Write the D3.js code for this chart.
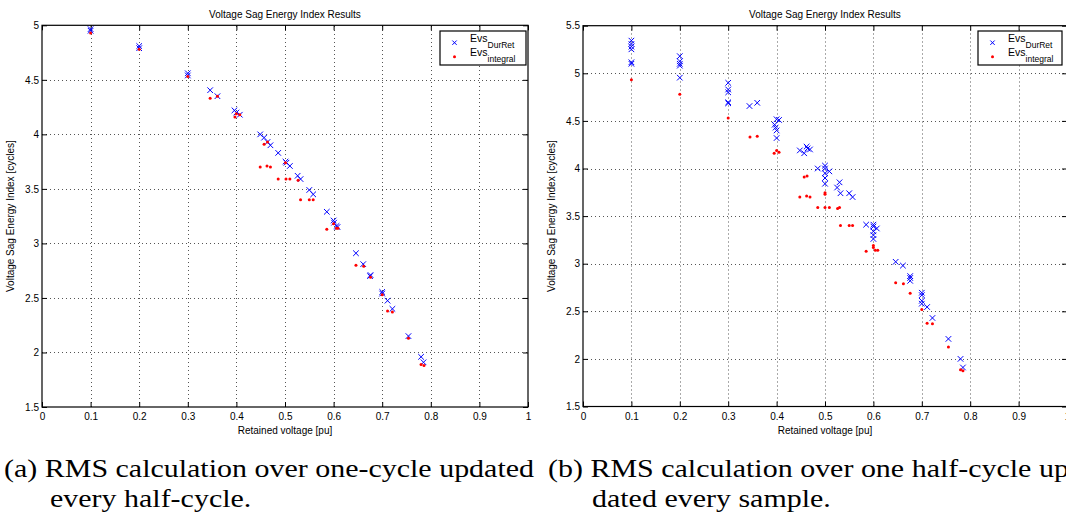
<!DOCTYPE html>
<html>
<head>
<meta charset="utf-8">
<script src="https://cdn.jsdelivr.net/npm/d3@7"></script>
<style>
  body { margin: 0; background: #fff; }
</style>
</head>
<body>
<script>
// values: [retained voltage pu, index cycles]
const leftDurRet = [
  [0.1, 4.965], [0.1, 4.95], [0.2, 4.81], [0.2, 4.79], [0.3, 4.56], [0.3, 4.54],
  [0.346, 4.405], [0.361, 4.35], [0.396, 4.22], [0.40, 4.20], [0.407, 4.18],
  [0.449, 4.00], [0.457, 3.97], [0.464, 3.93], [0.470, 3.90], [0.486, 3.83],
  [0.501, 3.75], [0.503, 3.74], [0.510, 3.71], [0.526, 3.62], [0.532, 3.59],
  [0.550, 3.49], [0.558, 3.45], [0.586, 3.29], [0.600, 3.21], [0.601, 3.19],
  [0.606, 3.16], [0.608, 3.15], [0.646, 2.91], [0.661, 2.81], [0.676, 2.71],
  [0.675, 2.70], [0.700, 2.555], [0.700, 2.54], [0.711, 2.475], [0.721, 2.40],
  [0.754, 2.15], [0.780, 1.96], [0.785, 1.91]
];
const leftIntegral = [
  [0.1, 4.93], [0.2, 4.78], [0.3, 4.53], [0.346, 4.33], [0.361, 4.35],
  [0.397, 4.16], [0.40, 4.19], [0.407, 4.18], [0.457, 3.91], [0.464, 3.93],
  [0.449, 3.70], [0.463, 3.71], [0.470, 3.70], [0.486, 3.59], [0.501, 3.74],
  [0.502, 3.59], [0.510, 3.59], [0.527, 3.58], [0.532, 3.40], [0.550, 3.40],
  [0.558, 3.40], [0.586, 3.13], [0.600, 3.18], [0.606, 3.14], [0.609, 3.14],
  [0.646, 2.80], [0.662, 2.79], [0.676, 2.69], [0.700, 2.53], [0.711, 2.38],
  [0.721, 2.37], [0.754, 2.13], [0.780, 1.89], [0.786, 1.88]
];
const rightDurRet = [
  [0.1, 5.343], [0.1, 5.308], [0.1, 5.28], [0.1, 5.252], [0.1, 5.116], [0.1, 5.10],
  [0.2, 5.18], [0.2, 5.126], [0.2, 5.10], [0.2, 5.08], [0.2, 4.954],
  [0.3, 4.90], [0.3, 4.83], [0.3, 4.80], [0.3, 4.695], [0.3, 4.685],
  [0.344, 4.656], [0.360, 4.69],
  [0.40, 4.517], [0.405, 4.51], [0.396, 4.46], [0.398, 4.43], [0.40, 4.40], [0.40, 4.32],
  [0.448, 4.19], [0.457, 4.16], [0.462, 4.23], [0.464, 4.21], [0.469, 4.20],
  [0.485, 4.00], [0.50, 4.03], [0.50, 4.00], [0.50, 3.95], [0.50, 3.90], [0.50, 3.84], [0.509, 3.97],
  [0.530, 3.855], [0.525, 3.80], [0.532, 3.74], [0.550, 3.74], [0.557, 3.70],
  [0.585, 3.41], [0.60, 3.41], [0.60, 3.39], [0.607, 3.37], [0.60, 3.34], [0.60, 3.30], [0.60, 3.26],
  [0.646, 3.02], [0.661, 2.98], [0.676, 2.87], [0.676, 2.85], [0.676, 2.82],
  [0.70, 2.695], [0.70, 2.67], [0.70, 2.61], [0.70, 2.58], [0.711, 2.545], [0.722, 2.43],
  [0.755, 2.21], [0.78, 2.00], [0.785, 1.91]
];
const rightIntegral = [
  [0.1, 4.933], [0.2, 4.78], [0.3, 4.53], [0.345, 4.33], [0.360, 4.34],
  [0.395, 4.16], [0.40, 4.19], [0.405, 4.17], [0.457, 3.91], [0.463, 3.92],
  [0.448, 3.70], [0.462, 3.71], [0.469, 3.70], [0.485, 3.59], [0.50, 3.59],
  [0.509, 3.59], [0.526, 3.58], [0.53, 3.59], [0.50, 3.745], [0.50, 3.73],
  [0.532, 3.40], [0.55, 3.40], [0.557, 3.40], [0.60, 3.19], [0.60, 3.17],
  [0.585, 3.13], [0.604, 3.14], [0.609, 3.14], [0.646, 2.80], [0.662, 2.79],
  [0.676, 2.69], [0.70, 2.52], [0.711, 2.375], [0.722, 2.37], [0.755, 2.125],
  [0.78, 1.885], [0.785, 1.875]
];

const xTicks = [0, 0.1, 0.2, 0.3, 0.4, 0.5, 0.6, 0.7, 0.8, 0.9, 1];
const yTicksLeft = [1.5, 2, 2.5, 3, 3.5, 4, 4.5, 5];
const yTicksRight = [1.5, 2, 2.5, 3, 3.5, 4, 4.5, 5, 5.5];

const chartTitle = 'Voltage Sag Energy Index Results';
const xLabel = 'Retained voltage [pu]';
const yLabel = 'Voltage Sag Energy Index [cycles]';
const captionA = ['(a) RMS calculation over one-cycle updated', 'every half-cycle.'];
const captionB = ['(b) RMS calculation over one half-cycle up-', 'dated every sample.'];

const sansFont = '"Liberation Sans", Arial, sans-serif';
const width = 1066;
const height = 514;
const svg = d3.select('body').append('svg')
  .attr('width', width).attr('height', height)
  .style('display', 'block')
  .style('font-family', sansFont);

function drawPanel(p) {
  const x = d3.scaleLinear().domain([0, 1]).range([p.left, p.right]);
  const y = d3.scaleLinear().domain([p.yTicks[0], p.yTicks[p.yTicks.length - 1]]).range([p.bottom, p.top]);
  const g = svg.append('g');

  // dotted grid
  const grid = g.append('g').attr('stroke', '#555').attr('stroke-dasharray', '1,3').attr('stroke-width', 1);
  grid.selectAll('.gx').data(xTicks.slice(1, -1)).enter().append('line')
    .attr('x1', d => Math.round(x(d)) + 0.5).attr('x2', d => Math.round(x(d)) + 0.5)
    .attr('y1', p.bottom).attr('y2', p.top);
  grid.selectAll('.gy').data(p.yTicks.slice(1, -1)).enter().append('line')
    .attr('y1', d => Math.round(y(d)) + 0.5).attr('y2', d => Math.round(y(d)) + 0.5)
    .attr('x1', p.left).attr('x2', p.right);

  // axes with inward ticks
  const fmt = d3.format('');
  const styleAxis = sel => {
    sel.select('.domain').remove();
    sel.selectAll('line').attr('stroke', '#000');
    sel.selectAll('text').style('font-family', sansFont).attr('font-size', 10).attr('fill', '#000');
  };
  g.append('g').attr('transform', `translate(0,${p.bottom})`)
    .call(d3.axisBottom(x).tickValues(xTicks).tickSize(-5).tickPadding(6).tickFormat(fmt)).call(styleAxis);
  g.append('g').attr('transform', `translate(0,${p.top})`)
    .call(d3.axisTop(x).tickValues(xTicks).tickSize(-5).tickFormat('')).call(styleAxis);
  g.append('g').attr('transform', `translate(${p.left},0)`)
    .call(d3.axisLeft(y).tickValues(p.yTicks).tickSize(-5).tickPadding(3).tickFormat(fmt)).call(styleAxis);
  g.append('g').attr('transform', `translate(${p.right},0)`)
    .call(d3.axisRight(y).tickValues(p.yTicks).tickSize(-5).tickFormat('')).call(styleAxis);

  g.append('rect')
    .attr('x', p.left).attr('y', p.top)
    .attr('width', p.right - p.left).attr('height', p.bottom - p.top)
    .attr('fill', 'none').attr('stroke', '#000').attr('stroke-width', 1.2);

  // markers
  const s = 2.8;
  g.append('g').selectAll('path').data(p.durRet).enter().append('path')
    .attr('d', d => {
      const cx = x(d[0]), cy = y(d[1]);
      return `M${cx - s},${cy - s}L${cx + s},${cy + s}M${cx - s},${cy + s}L${cx + s},${cy - s}`;
    })
    .attr('stroke', '#0000ff').attr('stroke-width', 1).attr('fill', 'none');
  g.append('g').selectAll('circle').data(p.integral).enter().append('circle')
    .attr('cx', d => x(d[0])).attr('cy', d => y(d[1])).attr('r', 1.5)
    .attr('fill', '#ff0000');

  // titles
  const cx = (p.left + p.right) / 2;
  g.append('text').attr('x', cx).attr('y', 17.5).attr('text-anchor', 'middle')
    .attr('font-size', 10).text(chartTitle);
  g.append('text').attr('x', cx).attr('y', 434).attr('text-anchor', 'middle')
    .attr('font-size', 10).text(xLabel);
  g.append('text').attr('text-anchor', 'middle').attr('font-size', 10)
    .attr('transform', `translate(${p.yLabelX},${(p.top + p.bottom) / 2}) rotate(-90)`)
    .text(yLabel);

  // legend
  const lg = g.append('g').attr('transform', `translate(${p.legendX},31)`);
  lg.append('rect').attr('width', p.legendW).attr('height', 34)
    .attr('fill', '#fff').attr('stroke', '#000').attr('stroke-width', 1.2);
  const mx = 14.5, ls = 2.2;
  lg.append('path')
    .attr('d', `M${mx - ls},${11.7 - ls}L${mx + ls},${11.7 + ls}M${mx - ls},${11.7 + ls}L${mx + ls},${11.7 - ls}`)
    .attr('stroke', '#0000ff').attr('stroke-width', 1);
  lg.append('circle').attr('cx', mx).attr('cy', 25.7).attr('r', 1.5).attr('fill', '#ff0000');
  const rows = [['DurRet', 11.3], ['integral', 25]];
  rows.forEach(r => {
    const t = lg.append('text').attr('x', 30).attr('y', r[1]).attr('font-size', 10.5);
    t.append('tspan').text('Evs');
    t.append('tspan').attr('font-size', 8.5).attr('dy', 5.5).text(r[0]);
  });
}

drawPanel({
  left: 42, right: 528, top: 25.3, bottom: 407,
  yTicks: yTicksLeft, durRet: leftDurRet, integral: leftIntegral,
  yLabelX: 14, legendX: 440, legendW: 86
});
drawPanel({
  left: 583, right: 1067, top: 25.7, bottom: 406.5,
  yTicks: yTicksRight, durRet: rightDurRet, integral: rightIntegral,
  yLabelX: 555, legendX: 978, legendW: 84
});

// captions, serif, stretched to the widths of the typeset original
const capFont = '"Liberation Serif", "Times New Roman", serif';
const capSize = 25;
function capLine(str, x, y, ratio) {
  const t = svg.append('text').attr('x', x).attr('y', y)
    .style('font-family', capFont).attr('font-size', capSize).text(str);
  const natural = t.node().getComputedTextLength();
  t.attr('textLength', natural * ratio).attr('lengthAdjust', 'spacingAndGlyphs');
  return natural;
}
// first line of (a) spans x = 4 .. 534 in the reference
const probe = svg.append('text').style('font-family', capFont).attr('font-size', capSize).text(captionA[0]);
const ratio = 530 / probe.node().getComputedTextLength();
probe.remove();
capLine(captionA[0], 4, 477, ratio);
capLine(captionA[1], 50, 507, ratio);
capLine(captionB[0], 548, 477, ratio);
capLine(captionB[1], 592, 507, ratio);
</script>
</body>
</html>
